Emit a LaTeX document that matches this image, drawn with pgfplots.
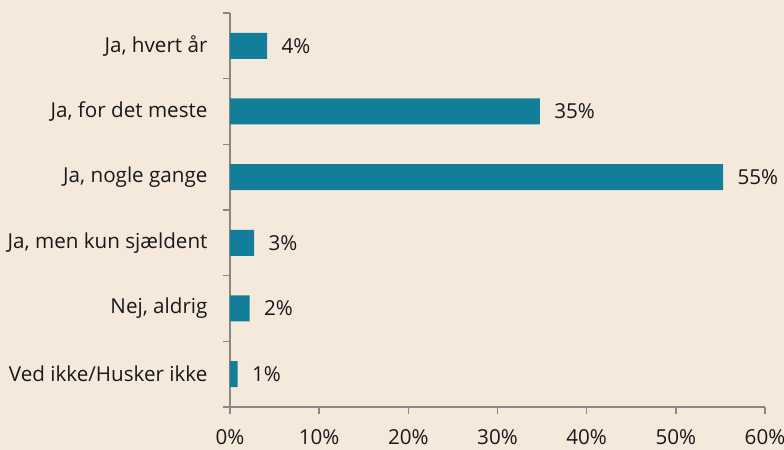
\documentclass[border=0pt]{standalone}
\usepackage{pgfplots}
\pgfplotsset{compat=1.18}
\usepackage{fontspec}
\setmainfont{Open Sans}
\definecolor{bg}{HTML}{F5E9DC}
\definecolor{barc}{HTML}{127E9A}
\definecolor{axc}{HTML}{888888}
\begin{document}
\begin{tikzpicture}[x=1bp,y=1bp]
\useasboundingbox (-230,-43) rectangle (554,407);
\fill[bg] (-230,-43) rectangle (554,407);
\begin{axis}[
  at={(0,0)}, anchor=south west,
  scale only axis, width=535bp, height=394bp,
  xmin=0, xmax=60, ymin=-0.5, ymax=5.5,
  clip=false,
  axis x line*=bottom, axis y line*=left,
  axis line style={axc, line width=1.5bp},
  xtick={0,10,...,60},
  xticklabel={\pgfmathprintnumber{\tick}\%},
  /pgf/number format/assume math mode=true,
  ytick={0,...,5},
  yticklabels={Ved ikke/Husker ikke, {Nej, aldrig}, {Ja, men kun sjældent}, {Ja, nogle gange}, {Ja, for det meste}, {Ja, hvert år}},
  minor ytick={-0.5,0.5,...,5.5},
  major y tick style={draw=none},
  tick align=outside,
  major tick length=7bp, minor tick length=7bp,
  tick style={axc, line width=1.5bp},
  tick label style={font=\fontsize{20.7}{24}\selectfont, text=black!90},
  y tick label style={xshift=-12bp},
  x tick label style={yshift=-12bp},
]
\addplot[xbar, fill=barc, draw=none, bar width=26bp,
  nodes near coords, point meta=explicit symbolic,
  every node near coord/.style={anchor=west, xshift=11bp, font=\fontsize{20.7}{24}\selectfont, text=black!90}]
  coordinates {
  (4.15,5) [4\%]
  (34.75,4) [35\%]
  (55.3,3) [55\%]
  (2.7,2) [3\%]
  (2.2,1) [2\%]
  (0.85,0) [1\%]
  };
\end{axis}
\end{tikzpicture}
\end{document}
